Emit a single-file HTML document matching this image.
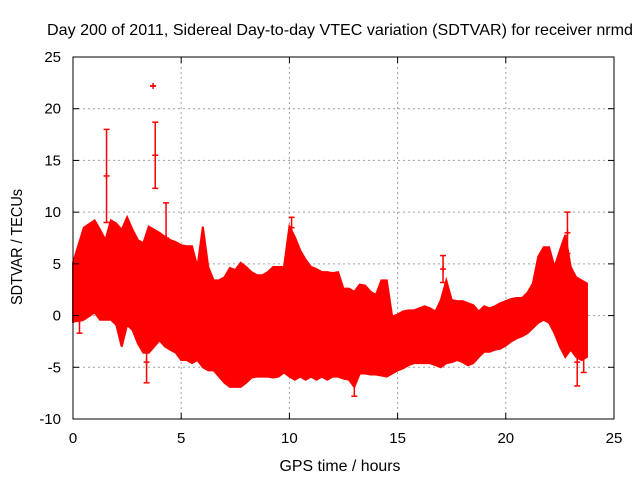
<!DOCTYPE html>
<html><head><meta charset="utf-8"><style>
body{margin:0;background:#fff}
svg{display:block;font-family:"Liberation Sans",Arial,sans-serif}
</style></head><body>
<svg id="chart" width="640" height="480" viewBox="0 0 640 480">
<rect width="640" height="480" fill="#fff"/>
<text x="340" y="35" font-size="16" text-anchor="middle" textLength="586" lengthAdjust="spacingAndGlyphs">Day 200 of 2011, Sidereal Day-to-day VTEC variation (SDTVAR) for receiver nrmd</text>
<text x="340" y="471" font-size="16" text-anchor="middle" textLength="121" lengthAdjust="spacingAndGlyphs">GPS time / hours</text>
<text transform="translate(22,247) rotate(-90)" font-size="16" text-anchor="middle" textLength="116" lengthAdjust="spacingAndGlyphs">SDTVAR / TECUs</text>
<g id="grid"></g><g id="data"></g><g id="axes"></g>
</svg>
<script>
const xTicks=[0,5,10,15,20,25];
const yTicks=[-10,-5,0,5,10,15,20,25];
const times=[0,0.5,1,1.25,1.5,1.75,2,2.25,2.5,2.75,3,3.25,3.5,3.75,4,4.25,4.5,4.75,5,5.25,5.5,5.75,6,6.25,6.5,6.75,7,7.25,7.5,7.75,8,8.25,8.5,8.75,9,9.25,9.5,9.75,10,10.25,10.5,10.75,11,11.25,11.5,11.75,12,12.25,12.5,12.75,13,13.25,13.5,13.75,14,14.25,14.5,14.75,15,15.25,15.5,15.75,16,16.25,16.5,16.75,17,17.25,17.5,17.75,18,18.25,18.5,18.75,19,19.25,19.5,19.75,20,20.25,20.5,20.75,21,21.25,21.5,21.75,22,22.25,22.5,22.75,23,23.25,23.5,23.75];
const upper=[5.1,8.5,9.2,8.3,7.3,9.2,8.9,8.3,9.5,8.3,7.3,7.0,8.6,8.3,8.0,7.6,7.3,7.1,6.8,6.7,6.7,4.7,8.6,4.7,3.4,3.4,3.7,4.6,4.4,5.1,4.7,4.2,3.9,3.9,4.2,4.7,4.7,4.7,8.6,7.6,6.3,5.4,4.7,4.5,4.2,4.2,4.1,4.2,2.6,2.6,2.3,3.0,2.9,2.3,2.0,3.4,3.4,-0.1,0.1,0.4,0.5,0.5,0.7,0.9,0.7,0.4,1.5,3.4,1.5,1.4,1.4,1.2,1.0,0.4,0.9,0.7,0.9,1.2,1.4,1.6,1.7,1.7,2.2,3.1,5.7,6.6,6.6,4.7,6.3,7.8,4.7,3.7,3.4,3.1];
const lower=[-0.6,-0.4,0.3,-0.4,-0.4,-0.4,-0.9,-3.0,-0.9,-1.4,-2.7,-3.6,-3.6,-3.0,-2.4,-3.0,-3.3,-3.6,-4.3,-4.3,-4.6,-4.3,-5.0,-5.3,-5.3,-5.9,-6.5,-6.9,-6.9,-6.9,-6.5,-6.0,-5.9,-5.9,-5.9,-6.0,-5.9,-5.5,-5.9,-6.2,-5.9,-6.2,-5.9,-6.2,-5.9,-6.2,-5.9,-5.9,-6.1,-6.2,-6.9,-5.6,-5.6,-5.7,-5.7,-5.8,-5.9,-5.6,-5.3,-5.1,-4.8,-4.6,-4.6,-4.6,-4.6,-4.8,-5.0,-4.6,-4.5,-4.3,-4.5,-4.8,-4.6,-4.0,-3.5,-3.5,-3.3,-3.2,-2.9,-2.5,-2.2,-2.0,-1.7,-1.2,-0.7,-0.4,-0.7,-1.7,-3.0,-4.0,-3.3,-4.0,-4.3,-4.0];
const spikeT=[0.3,1.55,3.4,3.7,3.8,4.3,10.1,13.0,17.1,22.85,23.3,23.6];
const spikeY=[-0.5,13.5,-4.5,22.2,15.5,7.5,8.5,-5.5,4.5,8.0,-4.5,-3.0];
const spikeErr=[1.2,4.5,2.0,0,3.2,3.4,1.0,2.3,1.3,2.0,2.3,2.5];
const X0=73,X1=614,Y0=419,Y1=57;
const xs=v=>X0+(v-0)/(25-0)*(X1-X0);
const ys=v=>Y0-(v+10)/35*(Y0-Y1);
const NS="http://www.w3.org/2000/svg";
function mk(tag,attrs,parent){const e=document.createElementNS(NS,tag);for(const k in attrs)e.setAttribute(k,attrs[k]);parent.appendChild(e);return e;}
const grid=document.getElementById('grid'),data=document.getElementById('data'),axes=document.getElementById('axes');
xTicks.forEach(t=>{
 if(t>0&&t<25){const g=mk('line',{x1:xs(t),x2:xs(t),y1:Y0,y2:Y1,stroke:'#a0a0a0','stroke-dasharray':'2,3'},grid);
 
 }
 const tk=mk('text',{x:xs(t),y:Y0+24,'font-size':15,'text-anchor':'middle'},axes);tk.textContent=t;
 
 
 mk('line',{x1:xs(t),x2:xs(t),y1:Y0,y2:Y0-6,stroke:'#000'},axes);
 mk('line',{x1:xs(t),x2:xs(t),y1:Y1,y2:Y1+6,stroke:'#000'},axes);
});
yTicks.forEach(t=>{
 if(t>-10&&t<25){const g=mk('line',{x1:X0,x2:X1,y1:ys(t),y2:ys(t),stroke:'#a0a0a0','stroke-dasharray':'2,3'},grid);
 
 }
 const tk=mk('text',{x:X0-12,y:ys(t)+5,'font-size':15,'text-anchor':'end'},axes);tk.textContent=t;
 
 
 mk('line',{x1:X0,x2:X0+6,y1:ys(t),y2:ys(t),stroke:'#000'},axes);
 mk('line',{x1:X1,x2:X1-6,y1:ys(t),y2:ys(t),stroke:'#000'},axes);
});
const fr=mk('rect',{x:X0,y:Y1,width:X1-X0,height:Y0-Y1,fill:'none',stroke:'#000'},axes);


let pts=[];
times.forEach((t,i)=>pts.push(xs(t)+','+ys(upper[i])));
for(let i=times.length-1;i>=0;i--)pts.push(xs(times[i])+','+ys(lower[i]));
const band=mk('polygon',{points:pts.join(' '),fill:'#ff0000',stroke:'#ff0000','stroke-width':2},data);


spikeT.forEach((t,i)=>{
 const x=xs(t),yt=ys(spikeY[i]+spikeErr[i]),yb=ys(spikeY[i]-spikeErr[i]),yc=ys(spikeY[i]);
 const g=mk('g',{stroke:'#ff0000','stroke-width':1.5},data);
 
 
 mk('line',{x1:x,x2:x,y1:yt,y2:yb},g);
 mk('line',{x1:x-3,x2:x+3,y1:yt,y2:yt},g);
 mk('line',{x1:x-3,x2:x+3,y1:yb,y2:yb},g);
 mk('line',{x1:x-3,x2:x+3,y1:yc,y2:yc},g);
 mk('line',{x1:x,x2:x,y1:yc-3,y2:yc+3},g);
});
</script>
</body></html>
